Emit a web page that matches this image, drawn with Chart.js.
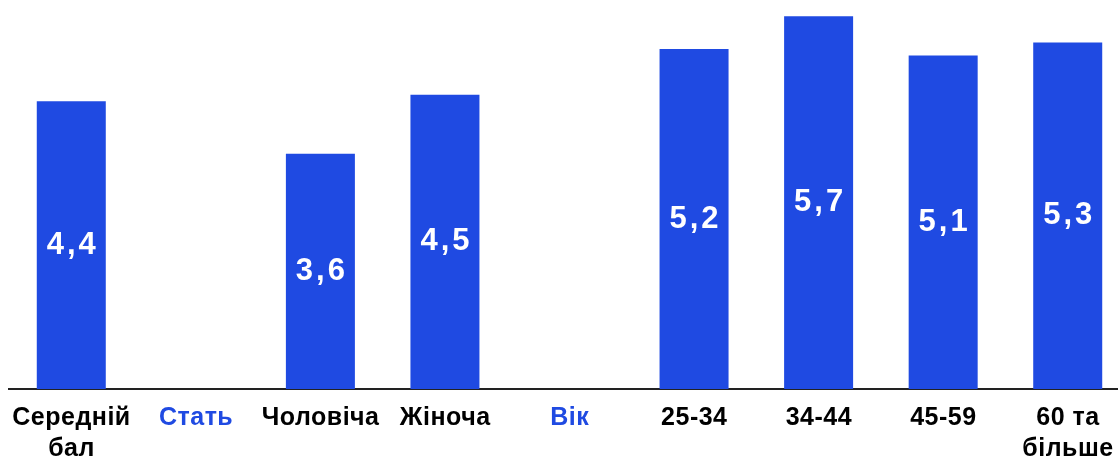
<!DOCTYPE html>
<html>
<head>
<meta charset="utf-8">
<script src="https://cdn.jsdelivr.net/npm/chart.js@4/dist/chart.umd.min.js"></script>
<style>
html,body{margin:0;padding:0;overflow:hidden;background:#fff;width:1118px;height:459px;}
#wrap{width:1130px;height:459px;}
</style>
</head>
<body>
<div id="wrap"><canvas id="c" width="1130" height="459"></canvas></div>
<script>
const categories = [["Середній","бал"], "Стать", "Чоловіча", "Жіноча", "Вік", "25-34", "34-44", "45-59", ["60 та","більше"]];
const values = [4.4, null, 3.6, 4.5, null, 5.2, 5.7, 5.1, 5.3];
const headerIndexes = [1, 4];
const valueLabels = values.map(v => v === null ? "" : v.toFixed(1).replace(".", ","));

const BLUE = "#1f4ae2";
const FONT = "'Liberation Sans', Arial, sans-serif";

function drawSpaced(ctx, text, x, y, ls) {
  ctx.letterSpacing = ls + "px";
  ctx.fillText(text, x + ls / 2, y);
}

const categoryLabelPlugin = {
  id: "categoryLabels",
  afterDraw(chart) {
    const ctx = chart.ctx;
    const xs = chart.scales.x;
    const bottom = chart.chartArea.bottom;
    ctx.save();
    ctx.font = "bold 25px " + FONT;
    ctx.textAlign = "center";
    ctx.textBaseline = "alphabetic";
    categories.forEach((lab, i) => {
      const lines = Array.isArray(lab) ? lab : [lab];
      const x = xs.getPixelForValue(i);
      ctx.fillStyle = headerIndexes.includes(i) ? BLUE : "#000000";
      lines.forEach((ln, j) => {
        drawSpaced(ctx, ln, x, bottom + 36 + j * 31, 0.5);
      });
    });
    ctx.restore();
  }
};

const valueLabelPlugin = {
  id: "valueLabels",
  afterDatasetsDraw(chart) {
    const ctx = chart.ctx;
    const meta = chart.getDatasetMeta(0);
    ctx.save();
    ctx.fillStyle = "#ffffff";
    ctx.font = "bold 31px " + FONT;
    ctx.textAlign = "center";
    ctx.textBaseline = "middle";
    meta.data.forEach((bar, i) => {
      if (values[i] === null) return;
      const y = (bar.y + bar.base) / 2;
      drawSpaced(ctx, valueLabels[i], bar.x, y, 3);
    });
    ctx.restore();
  }
};

new Chart(document.getElementById("c"), {
  type: "bar",
  data: {
    labels: categories,
    datasets: [{
      data: values,
      backgroundColor: BLUE,
      borderWidth: 0,
      categoryPercentage: 1,
      barPercentage: 0.554
    }]
  },
  options: {
    responsive: false,
    animation: false,
    layout: { padding: { left: 9, right: 0, top: 0, bottom: 0 } },
    plugins: { legend: { display: false }, tooltip: { enabled: false } },
    scales: {
      x: {
        grid: { display: false },
        border: { display: true, color: "#222222", width: 2 },
        ticks: { display: false },
        afterFit: (s) => { s.height = 70; }
      },
      y: {
        display: false,
        min: 0,
        max: 5.95
      }
    }
  },
  plugins: [valueLabelPlugin, categoryLabelPlugin]
});
</script>
</body>
</html>
